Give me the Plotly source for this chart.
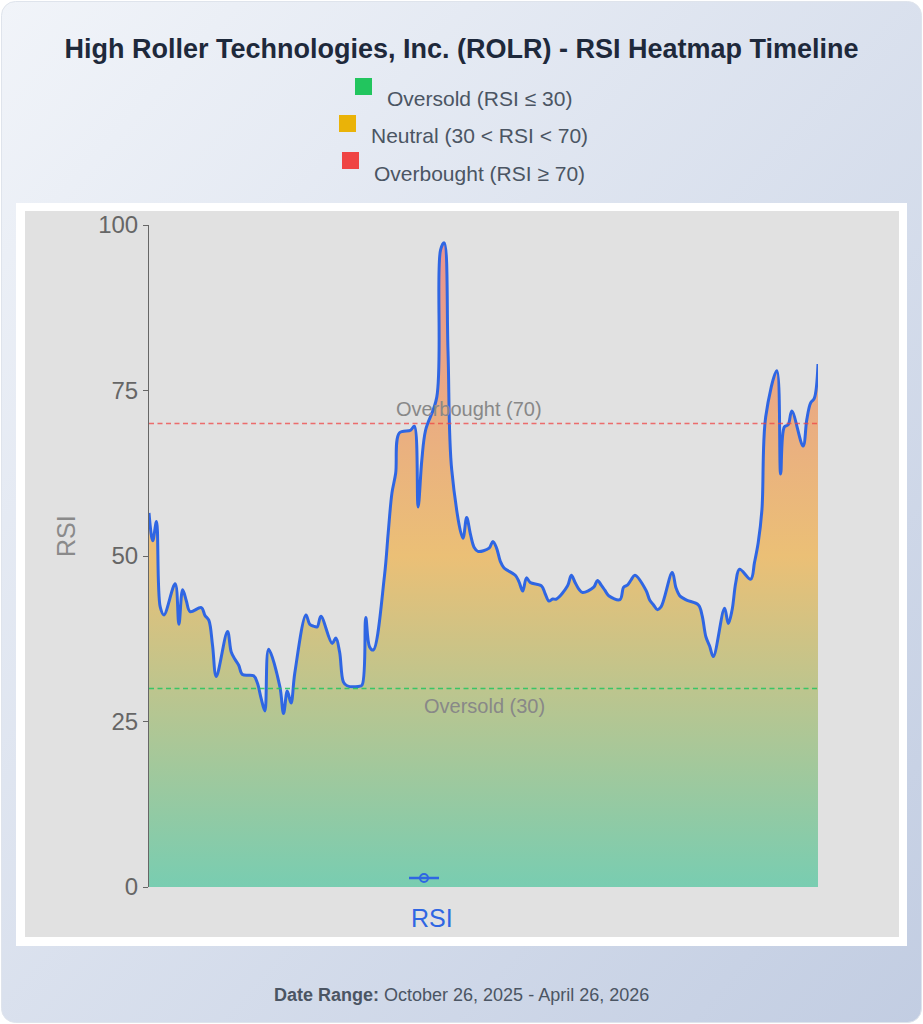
import base64
import pandas as pd
import plotly.graph_objects as go

# ---------------- data ----------------
start_date = "2025-10-27"
end_date = "2026-04-24"
dates = pd.bdate_range(start_date, end_date)

rsi_values = [
    56.5, 52.3, 55.2, 42.3, 41.1, 45.8, 39.7, 44.9, 43.2, 41.6,
    42.2, 41.0, 40.3, 36.5, 31.8, 38.6, 35.5, 34.4, 33.5, 32.1,
    31.9, 30.8, 28.5, 26.6, 35.9, 30.3, 26.2, 29.6, 27.8, 32.3,
    41.1, 39.7, 39.4, 39.3, 40.9, 36.8, 37.6, 35.5, 31.0, 30.4,
    30.3, 30.5, 40.7, 36.3, 35.8, 47.0, 53.5, 59.5, 62.5, 68.6,
    69.0, 69.6, 57.4, 64.5, 69.0, 74.0, 96.2, 97.3, 81.0, 63.0,
    52.7, 55.8, 53.3, 51.3, 50.7, 51.2, 52.2, 51.2, 49.2, 48.2,
    47.1, 46.1, 44.7, 46.7, 46.0, 45.5, 44.3, 43.2, 43.5, 43.5,
    45.5, 47.1, 46.0, 45.0, 44.5, 45.3, 46.3, 45.6, 44.8, 44.0,
    43.4, 45.3, 45.6, 46.4, 47.1, 44.8, 43.3, 42.6, 41.9, 42.3,
    47.5, 45.2, 44.0, 43.6, 43.3, 42.6, 41.0, 37.8, 36.4, 34.8,
    42.1, 39.8, 41.8, 46.0, 48.0, 46.5, 49.0, 52.0, 57.0, 71.0,
    78.0, 62.4, 69.5, 69.8, 71.9, 66.6, 70.6, 73.1, 73.8, 79.0,
]
dates = dates[:len(rsi_values)]

overbought_level = 70
oversold_level = 30
y_ticks = [0, 25, 50, 75, 100]

legend_labels = ["Oversold (RSI ≤ 30)", "Neutral (30 &lt; RSI &lt; 70)", "Overbought (RSI ≥ 70)"]
legend_colors = ["#22c55e", "#eab308", "#ef4444"]

title_text = "High Roller Technologies, Inc. (ROLR) - RSI Heatmap Timeline"
date_range_text = "<b>Date Range:</b> October 26, 2025 - April 26, 2026"

# ---------------- geometry helpers (layout only) ----------------
W, H = 923, 1024
L, R, T, B = 149, 818, 225, 887
PW, PH = R - L, B - T


def px2x(px):
    return (px - L) / PW


def py2y(py):
    return (B - py) / PH


FONT = "Liberation Sans, Arial, sans-serif"
BLUE = "#2f66e3"

fig = go.Figure()

fig.add_trace(go.Scatter(
    x=dates, y=rsi_values, mode="lines", name="RSI",
    line=dict(color=BLUE, width=3, shape="spline"),
    fill="tozeroy",
    fillgradient=dict(
        type="vertical", start=0, stop=100,
        colorscale=[[0, "rgba(16,185,129,0.5)"], [0.5, "rgba(245,158,11,0.5)"], [1, "rgba(239,68,68,0.5)"]],
    ),
    showlegend=False,
))

# legend-only entry (symbol shown near bottom of plot)
fig.add_trace(go.Scatter(
    x=[None], y=[None], mode="lines+markers", name="",
    line=dict(color=BLUE, width=2.5),
    marker=dict(symbol="circle-open", size=8, color=BLUE, line=dict(width=2)),
    showlegend=True,
))

# background card via SVG gradient
svg = (
    f"<svg xmlns='http://www.w3.org/2000/svg' width='{W}' height='{H}'>"
    "<defs><linearGradient id='g' x1='0' y1='0' x2='1' y2='1'>"
    "<stop offset='0' stop-color='#f1f4f9'/><stop offset='1' stop-color='#c2cde2'/>"
    "</linearGradient></defs>"
    f"<rect x='1.5' y='1.5' width='{W-3}' height='{H-3}' rx='14' ry='14' fill='url(#g)' stroke='#dfe4ec' stroke-width='1'/>"
    "</svg>"
)
src = "data:image/svg+xml;base64," + base64.b64encode(svg.encode()).decode()
fig.add_layout_image(dict(
    source=src, xref="paper", yref="paper",
    x=px2x(0), y=py2y(0), sizex=W / PW, sizey=H / PH,
    xanchor="left", yanchor="top", sizing="stretch", layer="below",
))

shapes = [
    dict(type="rect", xref="paper", yref="paper", x0=px2x(16), x1=px2x(907), y0=py2y(946), y1=py2y(203),
         fillcolor="white", line=dict(width=0), layer="below"),
    dict(type="rect", xref="paper", yref="paper", x0=px2x(25), x1=px2x(899), y0=py2y(937), y1=py2y(211),
         fillcolor="#e1e1e1", line=dict(width=0), layer="below"),
    dict(type="line", xref="paper", yref="y", x0=0, x1=1, y0=overbought_level, y1=overbought_level,
         line=dict(color="rgba(239,68,68,0.75)", width=1.5, dash="5px,3.5px"), layer="above"),
    dict(type="line", xref="paper", yref="y", x0=0, x1=1, y0=oversold_level, y1=oversold_level,
         line=dict(color="rgba(34,197,94,0.85)", width=1.5, dash="5px,3.5px"), layer="above"),
]

# legend squares (top)
sq_pos = [(355, 78), (339, 115), (342, 152)]
txt_pos = [(385, 99), (369, 136), (372, 173)]
annotations = []
for (sx, sy), (tx, ty), lab, col in zip(sq_pos, txt_pos, legend_labels, legend_colors):
    shapes.append(dict(type="rect", xref="paper", yref="paper",
                       x0=px2x(sx), x1=px2x(sx + 17), y0=py2y(sy + 17), y1=py2y(sy),
                       fillcolor=col, line=dict(width=0), layer="above"))
    annotations.append(dict(text=lab, xref="paper", yref="paper", x=px2x(tx), y=py2y(ty),
                            xanchor="left", yanchor="middle", showarrow=False,
                            font=dict(family=FONT, size=21, color="#4b5563")))

annotations += [
    dict(text="Overbought (70)", xref="paper", yref="paper", x=px2x(469), y=py2y(409),
         xanchor="center", yanchor="middle", showarrow=False, font=dict(family=FONT, size=20, color="#888888")),
    dict(text="Oversold (30)", xref="paper", yref="paper", x=px2x(484), y=py2y(706),
         xanchor="center", yanchor="middle", showarrow=False, font=dict(family=FONT, size=20, color="#888888")),
    dict(text="RSI", xref="paper", yref="paper", x=px2x(432), y=py2y(918),
         xanchor="center", yanchor="middle", showarrow=False, font=dict(family=FONT, size=25, color=BLUE)),
    dict(text="RSI", xref="paper", yref="paper", x=px2x(66), y=py2y(536), textangle=-90,
         xanchor="center", yanchor="middle", showarrow=False, font=dict(family=FONT, size=25, color="#8a8a8a")),
    dict(text=date_range_text, xref="paper", yref="paper", x=px2x(461.5), y=py2y(995),
         xanchor="center", yanchor="middle", showarrow=False, font=dict(family=FONT, size=18, color="#4b5563")),
]

fig.update_layout(
    width=W, height=H,
    margin=dict(l=L, r=W - R, t=T, b=H - B, autoexpand=False),
    paper_bgcolor="white", plot_bgcolor="rgba(0,0,0,0)",
    title=dict(text=f"<b>{title_text}</b>", x=0.5, xref="container", xanchor="center",
               y=1 - 49 / H, yref="container", yanchor="middle",
               font=dict(family=FONT, size=27, color="#1e293b")),
    xaxis=dict(range=[dates[0], dates[-1]], showticklabels=False, showgrid=False, zeroline=False,
               showline=False, ticks=""),
    yaxis=dict(range=[0, 100], tickvals=y_ticks, showgrid=False, zeroline=False,
               showline=True, linecolor="#666666", linewidth=1, ticks="outside", ticklen=5,
               tickcolor="#666666", tickfont=dict(family=FONT, size=24, color="#666666")),
    legend=dict(x=px2x(404), y=py2y(878), xanchor="left", yanchor="middle",
                bgcolor="rgba(0,0,0,0)", borderwidth=0, itemwidth=30,
                font=dict(family=FONT, size=10)),
    shapes=shapes, annotations=annotations,
)

fig.write_html("out.html", config={"displayModeBar": False},
               post_script="document.body.style.margin='0';")
